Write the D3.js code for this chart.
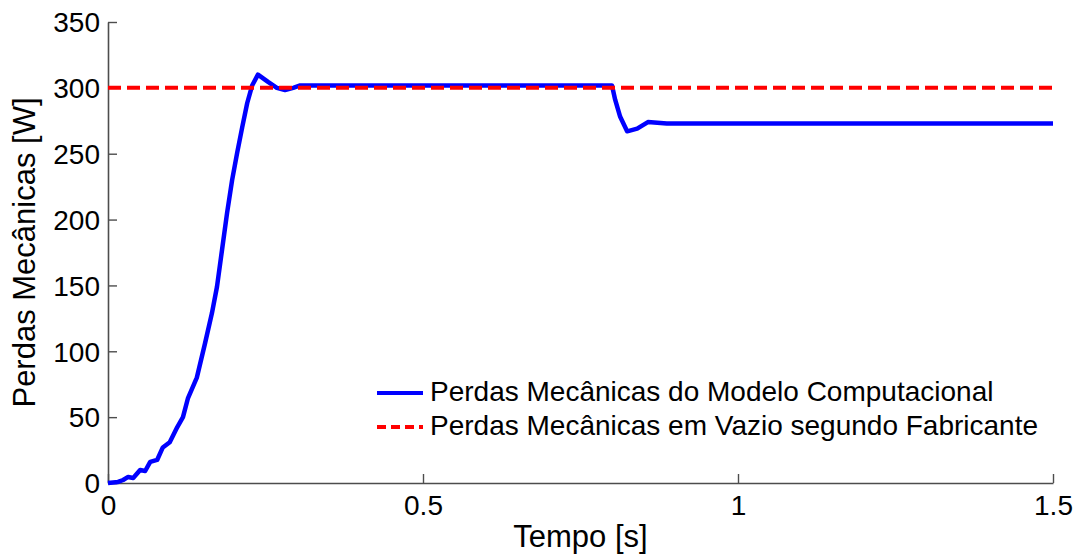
<!DOCTYPE html>
<html>
<head>
<meta charset="utf-8">
<script src="https://cdn.jsdelivr.net/npm/d3@7"></script>
<style>
  html, body { margin: 0; padding: 0; background: #fff; }
  svg { display: block; font-family: "Liberation Sans", Arial, sans-serif; }
</style>
</head>
<body>
<svg id="chart" width="1082" height="557"></svg>
<script>
// Simulated mechanical losses (time in s, power in W)
const timeS = [0, 0.016, 0.024, 0.032, 0.040, 0.051, 0.059, 0.067, 0.078, 0.087, 0.098,
  0.110, 0.119, 0.127, 0.141, 0.154, 0.165, 0.173, 0.181, 0.189, 0.197, 0.205, 0.213,
  0.221, 0.229, 0.238, 0.254, 0.268, 0.281, 0.294, 0.305, 0.800, 0.805, 0.813, 0.824,
  0.840, 0.857, 0.887, 1.5];
const modelLossW = [0, 0.8, 2.3, 4.6, 3.8, 9.9, 9.1, 16, 17.5, 27, 31,
  42.5, 50, 64.5, 80, 106, 129, 149, 177, 205, 230, 250.6, 270,
  288.5, 302, 310, 304.5, 300, 298.4, 300, 301.8, 301.8, 291, 278, 267,
  269, 274, 273, 273];

// Manufacturer's no-load mechanical losses
const ratedTime = [0, 1.5];
const ratedLossW = [300, 300];

const xTicks = [0, 0.5, 1, 1.5];
const yTicks = [0, 50, 100, 150, 200, 250, 300, 350];

const legendLabels = [
  "Perdas Mecânicas do Modelo Computacional",
  "Perdas Mecânicas em Vazio segundo Fabricante"
];

const margin = { left: 108, top: 22, right: 29, bottom: 74 };
const W = 1082, H = 557;
const iw = W - margin.left - margin.right;
const ih = H - margin.top - margin.bottom;

const svg = d3.select("#chart");
const g = svg.append("g").attr("transform", `translate(${margin.left},${margin.top})`);

const x = d3.scaleLinear().domain([0, 1.5]).range([0, iw]);
const y = d3.scaleLinear().domain([0, 350]).range([ih, 0]);

const axisColor = "#4d4d4d";

// Axes with inward ticks
const xAxis = g.append("g").attr("transform", `translate(0,${ih})`)
  .call(d3.axisBottom(x).tickValues(xTicks).tickSizeInner(-9).tickSizeOuter(0)
    .tickPadding(12).tickFormat(d3.format("")));
const yAxis = g.append("g")
  .call(d3.axisLeft(y).tickValues(yTicks).tickSizeInner(-9).tickSizeOuter(0)
    .tickPadding(8).tickFormat(d3.format("")));

[xAxis, yAxis].forEach(a => {
  a.select(".domain").attr("stroke", axisColor).attr("stroke-width", 1.6);
  a.selectAll(".tick line").attr("stroke", axisColor).attr("stroke-width", 1.4);
  a.selectAll(".tick text").attr("fill", "#000").attr("font-size", 28)
    .attr("font-family", "Liberation Sans, Arial, sans-serif");
});
xAxis.selectAll(".tick text").attr("dy", "0.71em");
yAxis.selectAll(".tick text").attr("dy", "0.35em");

// Series
const modelData = timeS.map((t, i) => [t, modelLossW[i]]);
const ratedData = ratedTime.map((t, i) => [t, ratedLossW[i]]);
const line = d3.line().x(d => x(d[0])).y(d => y(d[1]));

g.append("path").datum(modelData)
  .attr("d", line).attr("fill", "none")
  .attr("stroke", "#0000ff").attr("stroke-width", 4.5).attr("stroke-linejoin", "round");

g.append("path").datum(ratedData)
  .attr("d", line).attr("fill", "none")
  .attr("stroke", "#ff0000").attr("stroke-width", 4).attr("stroke-dasharray", "13,6");

// Axis titles
svg.append("text")
  .attr("x", margin.left + iw / 2).attr("y", 547)
  .attr("text-anchor", "middle").attr("font-size", 31).attr("fill", "#000")
  .text("Tempo [s]");
svg.append("text")
  .attr("transform", `translate(35,${margin.top + ih / 2}) rotate(-90)`)
  .attr("text-anchor", "middle").attr("font-size", 31).attr("fill", "#000")
  .text("Perdas Mecânicas [W]");

// Legend
const legend = svg.append("g");
const legendStyles = [
  { color: "#0000ff", dash: null, y: 393 },
  { color: "#ff0000", dash: "9,5", y: 427 }
];
legendLabels.forEach((label, i) => {
  const s = legendStyles[i];
  legend.append("line")
    .attr("x1", 377).attr("x2", 423).attr("y1", s.y).attr("y2", s.y)
    .attr("stroke", s.color).attr("stroke-width", 4)
    .attr("stroke-dasharray", s.dash);
  legend.append("text")
    .attr("x", 430).attr("y", s.y + 8)
    .attr("font-size", 28).attr("fill", "#000")
    .text(label);
});
</script>
</body>
</html>
